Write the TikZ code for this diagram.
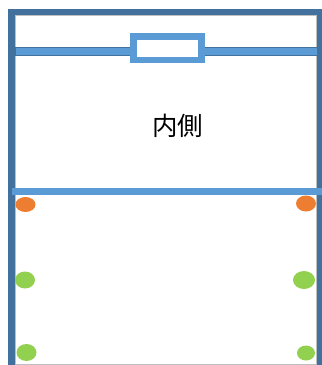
\documentclass[tikz,border=0pt]{standalone}
\usepackage{fontspec}
\newfontfamily\cjk{Noto Sans CJK JP}
\definecolor{frameblue}{HTML}{41719C}
\definecolor{barblue}{HTML}{5B9BD5}
\definecolor{dotorange}{HTML}{ED7D31}
\definecolor{dotgreen}{HTML}{92D050}
\definecolor{edgegray}{HTML}{BFBFBF}
\tikzset{
  dotO/.style={fill=dotorange},
  dotG/.style={fill=dotgreen},
}
\begin{document}
\begin{tikzpicture}[x=1pt,y=-1pt]
\useasboundingbox (0,0) rectangle (322,365);
% inner white area with thin gray edge
\draw[edgegray, line width=0.8pt, fill=white] (15.5,15.5) rectangle (316.5,364.2);
% outer frame
\fill[frameblue] (8,8.5) rectangle (15,365);
\fill[frameblue] (8,8.5) rectangle (322,15);
\fill[frameblue] (316.8,8.5) rectangle (322,365);
% upper bar with window
\draw[frameblue, line width=0.8pt, fill=barblue] (15,47) rectangle (131,55.5);
\draw[frameblue, line width=0.8pt, fill=barblue] (203,47) rectangle (317,55.5);
\draw[barblue, line width=6.5pt, fill=white] (133.5,36.5) rectangle (201.5,60.2);
% lower bar
\fill[barblue] (12,187.5) rectangle (322,194.5);
% text
\node (label) at (177.5,125.5) {\cjk\fontsize{25.5}{30}\selectfont 内側};
% dots
\fill[dotO] (25.5,204.5) ellipse (10 and 7.5);
\fill[dotO] (306,203.5) ellipse (10 and 8);
\fill[dotG] (25,280) ellipse (10 and 8.5);
\fill[dotG] (304,280) ellipse (11 and 9);
\fill[dotG] (26.5,352.5) ellipse (10 and 8.5);
\fill[dotG] (306,353) ellipse (9 and 7.5);
\end{tikzpicture}
\end{document}
